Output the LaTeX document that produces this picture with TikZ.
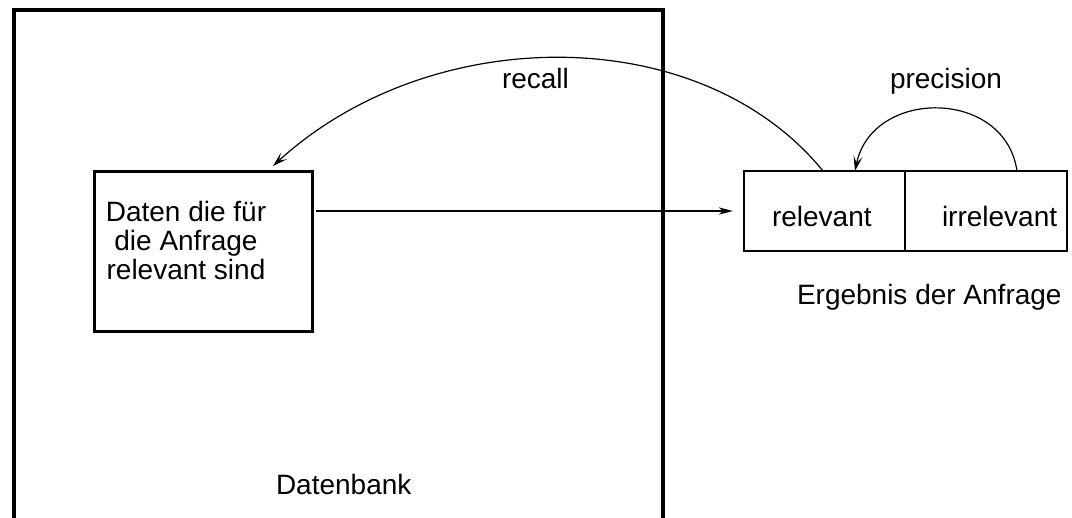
\documentclass[tikz,border=0pt]{standalone}
\usepackage{fontspec}
\setmainfont{Liberation Sans}
\usetikzlibrary{arrows.meta}
\begin{document}
\begin{tikzpicture}[x=1pt,y=-1pt,
  every node/.style={font=\fontsize{28}{29}\selectfont, inner sep=0pt, outer sep=0pt},
  box/.style={draw, rectangle, anchor=north west},
  lbl/.style={anchor=base west},
  flow/.style={line width=2.4pt, -{Stealth[length=14pt,width=7pt,inset=4pt]}},
  curvearr/.style={line width=1.2pt, -{Stealth[length=15pt,width=9pt,inset=7pt]}}]
\useasboundingbox (0,0) rectangle (1072,518);
% Datenbank
\node[box, line width=3.2pt, minimum width=649pt, minimum height=560pt] (db) at (14,10) {};
\node[lbl] (dbl) at (276,495) {Datenbank};
% inner box
\node[box, line width=3pt, minimum width=218pt, minimum height=160pt] (in) at (94,172) {};
\node[anchor=north, align=center] (intext) at (186,201) {Daten die f\"ur\\ die Anfrage\\relevant sind};
% result boxes
\node[box, line width=2.5pt, minimum width=161pt, minimum height=80pt] (rel) at (744,171) {};
\node[box, line width=2.5pt, minimum width=162pt, minimum height=80pt] (irr) at (rel.north east) {};
\node[lbl] (relt) at (772,227) {relevant};
\node[lbl] (irrt) at (942,227) {irrelevant};
\node[lbl] (erg) at (797,305) {Ergebnis der Anfrage};
% labels
\node[lbl] (recl) at (502,89) {recall};
\node[lbl] (prel) at (890,89) {precision};
% connector points
\coordinate (recS) at ([xshift=79pt]rel.north west);
\coordinate (recE) at ([xshift=-39pt,yshift=6pt]in.north east);
\coordinate (preS) at ([xshift=112pt]irr.north west);
\coordinate (preE) at ([xshift=111pt]rel.north west);
% connectors
\draw[flow, shorten <=4pt, shorten >=11pt] (in.east |- rel.west) -- (rel.west);
\draw[curvearr] (recS) .. controls (700,20) and (430,22) .. (recE);
\draw[curvearr] (preS) .. controls (1005,88) and (872,88) .. (preE);
\end{tikzpicture}
\end{document}
